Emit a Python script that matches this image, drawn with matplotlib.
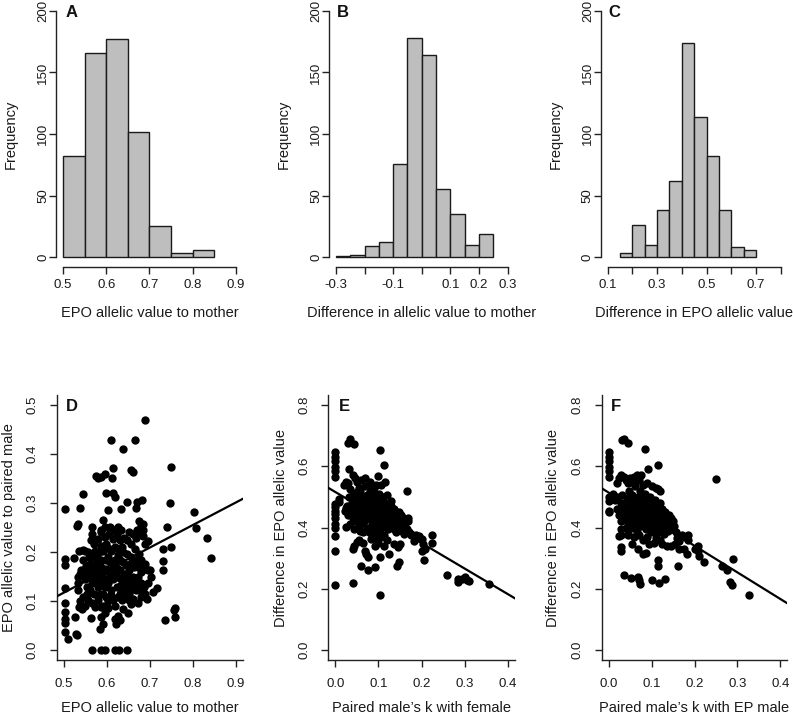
import numpy as np
import matplotlib
matplotlib.use("Agg")
import matplotlib.pyplot as plt

plt.rcParams['font.family'] = ['Liberation Sans', 'DejaVu Sans']

# --- histogram data (bin edges + counts) ---
a_edges = [0.50, 0.55, 0.60, 0.65, 0.70, 0.75, 0.80, 0.85]
a_counts = [82, 166, 177, 102, 25, 3, 6]

b_edges = [-0.30, -0.25, -0.20, -0.15, -0.10, -0.05, 0.00, 0.05, 0.10, 0.15, 0.20, 0.25]
b_counts = [1, 2, 9, 12, 76, 178, 164, 55, 35, 10, 19]

c_edges = [0.15, 0.20, 0.25, 0.30, 0.35, 0.40, 0.45, 0.50, 0.55, 0.60, 0.65, 0.70]
c_counts = [3, 26, 10, 38, 62, 174, 114, 82, 38, 8, 6]

# --- scatter D: EPO allelic value to mother vs to paired male ---
d_pts = [
    (0.690, 0.470), (0.611, 0.429), (0.666, 0.429), (0.638, 0.411), (0.750, 0.373),
    (0.615, 0.371), (0.657, 0.368), (0.662, 0.364), (0.576, 0.355), (0.580, 0.350),
    (0.588, 0.352), (0.597, 0.359), (0.613, 0.351), (0.544, 0.319), (0.598, 0.320),
    (0.614, 0.320), (0.620, 0.312), (0.648, 0.301), (0.670, 0.301), (0.683, 0.306),
    (0.748, 0.299), (0.503, 0.288), (0.537, 0.290), (0.603, 0.285), (0.634, 0.288),
    (0.668, 0.289), (0.802, 0.282), (0.739, 0.251), (0.808, 0.250), (0.833, 0.228),
    (0.843, 0.188), (0.531, 0.254), (0.534, 0.257), (0.567, 0.251), (0.592, 0.266),
    (0.676, 0.264), (0.685, 0.258), (0.503, 0.186), (0.503, 0.174), (0.525, 0.187),
    (0.536, 0.203), (0.546, 0.205), (0.750, 0.210), (0.730, 0.207), (0.730, 0.181),
    (0.730, 0.163), (0.716, 0.126), (0.503, 0.127), (0.503, 0.097), (0.503, 0.078),
    (0.503, 0.064), (0.503, 0.056), (0.503, 0.037), (0.510, 0.022), (0.528, 0.034),
    (0.531, 0.031), (0.526, 0.067), (0.563, 0.066), (0.735, 0.061), (0.758, 0.068),
    (0.757, 0.081), (0.758, 0.086), (0.585, 0.043), (0.592, 0.053),
    (0.567, 0.000), (0.586, 0.000), (0.596, 0.000), (0.619, 0.000), (0.628, 0.000),
    (0.648, 0.000),
    (0.619, 0.064), (0.626, 0.069), (0.632, 0.061), (0.621, 0.054), (0.588, 0.068),
    (0.596, 0.075), (0.603, 0.085), (0.592, 0.091), (0.619, 0.091), (0.638, 0.083),
    (0.649, 0.076), (0.657, 0.095), (0.661, 0.105), (0.653, 0.115), (0.661, 0.125),
    (0.668, 0.122), (0.651, 0.102), (0.565, 0.096), (0.573, 0.088), (0.557, 0.103),
    (0.546, 0.108), (0.538, 0.100), (0.536, 0.089), (0.542, 0.083), (0.550, 0.091),
    (0.534, 0.122), (0.533, 0.136), (0.533, 0.149), (0.539, 0.156), (0.550, 0.146),
    (0.559, 0.149), (0.565, 0.136), (0.569, 0.146), (0.576, 0.139), (0.580, 0.129),
    (0.584, 0.115), (0.592, 0.115), (0.599, 0.108), (0.604, 0.100), (0.609, 0.112),
    (0.614, 0.102), (0.596, 0.129), (0.603, 0.136), (0.611, 0.122), (0.623, 0.129),
    (0.630, 0.115), (0.638, 0.122), (0.641, 0.136), (0.634, 0.146), (0.624, 0.149),
    (0.614, 0.146), (0.588, 0.152), (0.580, 0.163), (0.573, 0.156), (0.566, 0.159),
    (0.556, 0.164), (0.552, 0.171), (0.562, 0.176), (0.569, 0.173), (0.576, 0.176),
    (0.586, 0.169), (0.592, 0.159), (0.599, 0.166), (0.607, 0.156), (0.617, 0.159),
    (0.623, 0.168), (0.632, 0.163), (0.641, 0.156), (0.649, 0.149), (0.657, 0.142),
    (0.664, 0.136), (0.672, 0.149), (0.680, 0.159), (0.687, 0.166), (0.695, 0.163),
    (0.701, 0.163), (0.686, 0.129), (0.688, 0.115), (0.680, 0.108), (0.672, 0.096),
    (0.668, 0.129), (0.661, 0.149), (0.653, 0.163), (0.645, 0.173), (0.638, 0.180),
    (0.630, 0.183), (0.619, 0.183), (0.607, 0.180), (0.599, 0.183), (0.588, 0.183),
    (0.580, 0.186), (0.571, 0.190), (0.563, 0.195), (0.556, 0.200), (0.550, 0.203),
    (0.573, 0.203), (0.583, 0.200), (0.592, 0.203), (0.602, 0.209), (0.611, 0.203),
    (0.620, 0.210), (0.628, 0.203), (0.638, 0.200), (0.648, 0.196), (0.657, 0.190),
    (0.663, 0.183), (0.672, 0.180), (0.680, 0.183), (0.689, 0.176), (0.676, 0.196),
    (0.665, 0.207), (0.657, 0.217), (0.648, 0.224), (0.640, 0.229), (0.630, 0.224),
    (0.623, 0.234), (0.615, 0.226), (0.605, 0.237), (0.596, 0.230), (0.588, 0.241),
    (0.580, 0.226), (0.571, 0.217), (0.563, 0.224), (0.599, 0.217), (0.588, 0.213),
    (0.668, 0.228), (0.676, 0.237), (0.684, 0.232), (0.688, 0.217), (0.695, 0.222),
    (0.680, 0.254), (0.684, 0.244), (0.671, 0.245), (0.661, 0.237), (0.653, 0.241),
    (0.634, 0.244), (0.626, 0.251), (0.617, 0.244), (0.607, 0.251), (0.597, 0.251),
    (0.586, 0.245), (0.567, 0.237), (0.559, 0.190), (0.544, 0.183), (0.540, 0.163),
    (0.546, 0.152), (0.554, 0.129), (0.561, 0.122), (0.571, 0.115), (0.580, 0.102),
    (0.586, 0.088), (0.635, 0.102), (0.643, 0.112), (0.626, 0.108), (0.634, 0.132),
    (0.648, 0.139), (0.653, 0.129), (0.600, 0.146), (0.593, 0.139), (0.585, 0.144),
    (0.554, 0.115), (0.672, 0.170), (0.663, 0.170), (0.703, 0.149), (0.707, 0.119),
    (0.695, 0.136), (0.680, 0.136), (0.676, 0.122), (0.694, 0.105), (0.615, 0.173),
    (0.611, 0.164), (0.582, 0.174), (0.603, 0.190), (0.626, 0.193), (0.635, 0.210),
    (0.655, 0.176),
]
d_fit = (-0.113, 0.46)  # intercept, slope

# --- scatter E: paired male's k with female vs difference in EPO allelic value ---
e_pts = [
    (0.030, 0.677), (0.034, 0.688), (0.043, 0.672), (0.103, 0.654), (0.114, 0.605),
    (0.000, 0.645), (0.000, 0.629), (0.000, 0.618), (0.000, 0.596), (0.000, 0.585),
    (0.000, 0.564), (0.000, 0.477), (0.000, 0.466), (0.000, 0.455), (0.000, 0.444),
    (0.000, 0.430), (0.000, 0.410), (0.000, 0.400), (0.000, 0.372), (0.000, 0.325),
    (0.000, 0.211), (0.040, 0.220), (0.103, 0.179), (0.167, 0.518), (0.009, 0.493),
    (0.009, 0.482), (0.025, 0.401), (0.168, 0.430), (0.168, 0.422),
    (0.258, 0.244), (0.284, 0.222), (0.284, 0.233), (0.293, 0.233), (0.300, 0.238),
    (0.304, 0.228), (0.310, 0.226), (0.357, 0.217),
    (0.176, 0.374), (0.188, 0.374), (0.200, 0.363), (0.204, 0.347), (0.208, 0.331),
    (0.223, 0.374), (0.223, 0.349), (0.200, 0.325), (0.206, 0.293), (0.190, 0.365),
    (0.195, 0.372), (0.182, 0.355), (0.160, 0.378), (0.155, 0.390),
    (0.040, 0.330), (0.044, 0.340), (0.050, 0.352), (0.056, 0.358), (0.060, 0.276),
    (0.068, 0.325), (0.071, 0.314), (0.075, 0.304), (0.075, 0.262), (0.091, 0.271),
    (0.091, 0.341), (0.103, 0.304), (0.124, 0.314), (0.144, 0.276), (0.148, 0.287),
    (0.145, 0.336), (0.114, 0.341), (0.083, 0.363), (0.065, 0.350), (0.100, 0.350),
    (0.120, 0.360), (0.135, 0.345), (0.150, 0.345),
    (0.025, 0.550), (0.030, 0.545), (0.033, 0.590), (0.040, 0.570), (0.045, 0.560),
    (0.050, 0.550), (0.060, 0.555), (0.068, 0.560), (0.080, 0.550), (0.095, 0.540),
    (0.100, 0.567), (0.105, 0.540), (0.115, 0.548), (0.128, 0.485), (0.120, 0.505),
    (0.090, 0.530), (0.075, 0.535), (0.055, 0.530), (0.035, 0.525), (0.020, 0.540),
    (0.022, 0.455), (0.028, 0.470), (0.030, 0.440), (0.032, 0.500), (0.035, 0.455),
    (0.038, 0.480), (0.040, 0.430), (0.040, 0.510), (0.042, 0.465), (0.045, 0.445),
    (0.045, 0.495), (0.048, 0.420), (0.048, 0.475), (0.050, 0.455), (0.050, 0.515),
    (0.052, 0.435), (0.053, 0.490), (0.055, 0.465), (0.055, 0.405), (0.057, 0.445),
    (0.058, 0.520), (0.060, 0.480), (0.060, 0.430), (0.062, 0.460), (0.063, 0.500),
    (0.065, 0.440), (0.065, 0.415), (0.066, 0.470), (0.068, 0.450), (0.068, 0.535),
    (0.070, 0.490), (0.070, 0.425), (0.072, 0.460), (0.073, 0.400), (0.074, 0.505),
    (0.075, 0.445), (0.076, 0.475), (0.078, 0.430), (0.078, 0.385), (0.080, 0.460),
    (0.080, 0.515), (0.082, 0.490), (0.083, 0.440), (0.084, 0.410), (0.085, 0.470),
    (0.086, 0.525), (0.088, 0.450), (0.089, 0.395), (0.090, 0.480), (0.091, 0.430),
    (0.092, 0.505), (0.094, 0.460), (0.095, 0.415), (0.096, 0.445), (0.098, 0.490),
    (0.098, 0.380), (0.100, 0.470), (0.101, 0.430), (0.102, 0.510), (0.104, 0.455),
    (0.105, 0.400), (0.106, 0.485), (0.108, 0.440), (0.109, 0.420), (0.110, 0.465),
    (0.111, 0.500), (0.112, 0.375), (0.113, 0.450), (0.115, 0.430), (0.116, 0.480),
    (0.118, 0.410), (0.119, 0.460), (0.120, 0.440), (0.122, 0.470), (0.123, 0.395),
    (0.125, 0.455), (0.126, 0.425), (0.128, 0.445), (0.130, 0.470), (0.131, 0.410),
    (0.133, 0.440), (0.135, 0.460), (0.137, 0.395), (0.138, 0.425), (0.140, 0.385),
    (0.142, 0.445), (0.145, 0.405), (0.147, 0.450), (0.150, 0.420), (0.152, 0.440),
    (0.155, 0.400), (0.158, 0.430), (0.162, 0.415), (0.165, 0.395), (0.170, 0.385),
    (0.175, 0.378), (0.025, 0.465), (0.035, 0.410), (0.058, 0.390), (0.043, 0.395),
    (0.105, 0.370), (0.085, 0.375), (0.065, 0.385), (0.093, 0.365),
]
e_fit = (0.516, -0.834)

# --- scatter F: paired male's k with EP male vs difference in EPO allelic value ---
f_pts = [
    (0.032, 0.685), (0.036, 0.688), (0.044, 0.674), (0.085, 0.656), (0.114, 0.605),
    (0.091, 0.591), (0.251, 0.558),
    (0.000, 0.645), (0.000, 0.629), (0.000, 0.618), (0.000, 0.596), (0.000, 0.585),
    (0.000, 0.564), (0.000, 0.499), (0.000, 0.488), (0.000, 0.455), (0.000, 0.450),
    (0.035, 0.244), (0.052, 0.236), (0.069, 0.238), (0.071, 0.228), (0.074, 0.217),
    (0.102, 0.228), (0.118, 0.220), (0.131, 0.233), (0.116, 0.293), (0.114, 0.276),
    (0.162, 0.273), (0.069, 0.331), (0.087, 0.317), (0.030, 0.336), (0.030, 0.325),
    (0.029, 0.377), (0.044, 0.377), (0.207, 0.341), (0.207, 0.325), (0.210, 0.306),
    (0.222, 0.287), (0.263, 0.276), (0.276, 0.262), (0.289, 0.298), (0.282, 0.222),
    (0.288, 0.211), (0.327, 0.179),
    (0.160, 0.365), (0.165, 0.355), (0.170, 0.375), (0.178, 0.370), (0.185, 0.375),
    (0.185, 0.360), (0.183, 0.315), (0.165, 0.330), (0.175, 0.330), (0.155, 0.345),
    (0.145, 0.340), (0.135, 0.340), (0.200, 0.330),
    (0.025, 0.372), (0.055, 0.345), (0.060, 0.370), (0.065, 0.400), (0.040, 0.400),
    (0.080, 0.360), (0.095, 0.345), (0.105, 0.350), (0.120, 0.360), (0.125, 0.345),
    (0.080, 0.315),
    (0.020, 0.545), (0.025, 0.560), (0.030, 0.570), (0.035, 0.565), (0.040, 0.555),
    (0.045, 0.545), (0.050, 0.560), (0.055, 0.550), (0.060, 0.565), (0.065, 0.570),
    (0.070, 0.555), (0.075, 0.570), (0.080, 0.540), (0.090, 0.545), (0.100, 0.535),
    (0.110, 0.530), (0.115, 0.525), (0.120, 0.520), (0.015, 0.490), (0.020, 0.500),
    (0.010, 0.510),
    (0.020, 0.460), (0.025, 0.440), (0.028, 0.480), (0.030, 0.420), (0.032, 0.505),
    (0.035, 0.455), (0.037, 0.470), (0.040, 0.435), (0.042, 0.495), (0.044, 0.415),
    (0.046, 0.460), (0.048, 0.520), (0.050, 0.445), (0.050, 0.480), (0.052, 0.400),
    (0.054, 0.465), (0.055, 0.505), (0.057, 0.430), (0.058, 0.490), (0.060, 0.450),
    (0.061, 0.415), (0.062, 0.535), (0.064, 0.475), (0.065, 0.440), (0.066, 0.385),
    (0.068, 0.500), (0.069, 0.460), (0.070, 0.425), (0.072, 0.485), (0.073, 0.445),
    (0.074, 0.520), (0.075, 0.405), (0.077, 0.470), (0.078, 0.435), (0.079, 0.495),
    (0.080, 0.455), (0.082, 0.415), (0.083, 0.480), (0.084, 0.440), (0.085, 0.510),
    (0.087, 0.395), (0.088, 0.465), (0.089, 0.425), (0.090, 0.490), (0.092, 0.450),
    (0.093, 0.410), (0.094, 0.475), (0.095, 0.435), (0.097, 0.500), (0.098, 0.385),
    (0.099, 0.460), (0.100, 0.420), (0.101, 0.480), (0.103, 0.440), (0.104, 0.400),
    (0.105, 0.465), (0.107, 0.425), (0.108, 0.490), (0.110, 0.445), (0.111, 0.410),
    (0.112, 0.470), (0.114, 0.385), (0.115, 0.430), (0.117, 0.455), (0.118, 0.400),
    (0.119, 0.480), (0.121, 0.420), (0.122, 0.445), (0.124, 0.395), (0.125, 0.460),
    (0.127, 0.415), (0.128, 0.435), (0.130, 0.380), (0.132, 0.450), (0.134, 0.405),
    (0.136, 0.425), (0.138, 0.390), (0.140, 0.440), (0.143, 0.410), (0.145, 0.430),
    (0.148, 0.395), (0.150, 0.420), (0.153, 0.405), (0.158, 0.385), (0.163, 0.370),
    (0.030, 0.395), (0.045, 0.380), (0.070, 0.375), (0.090, 0.370), (0.110, 0.365),
]
f_fit = (0.514, -0.868)


def style_axes(ax, xlim, ylim, xbounds, ybounds, xticks, xlabels, yticks, ylabels,
               xpad, ypad):
    ax.set_xlim(*xlim)
    ax.set_ylim(*ylim)
    for s in ("top", "right"):
        ax.spines[s].set_visible(False)
    ax.spines["left"].set_bounds(*ybounds)
    ax.spines["bottom"].set_bounds(*xbounds)
    for s in ("left", "bottom"):
        ax.spines[s].set_color("#222222")
        ax.spines[s].set_linewidth(1.0)
    ax.set_xticks(xticks)
    ax.set_xticklabels(xlabels)
    ax.set_yticks(yticks)
    ax.set_yticklabels(ylabels, rotation=90, va="center")
    ax.tick_params(axis="x", length=5, width=1.0, color="#222222", pad=xpad,
                   labelsize=9.5, labelcolor="#1a1a1a")
    ax.tick_params(axis="y", length=5, width=1.0, color="#222222", pad=ypad,
                   labelsize=9.5, labelcolor="#1a1a1a")


def add_labels(ax, letter, lx, ly, xlabel, ylabel, xlab_y, ylab_x):
    ax.text(lx, ly, letter, transform=ax.transAxes, fontsize=12, fontweight="bold",
            ha="center", va="center", color="#111111")
    ax.set_xlabel(xlabel, fontsize=10.5, color="#1a1a1a")
    ax.set_ylabel(ylabel, fontsize=10.5, color="#1a1a1a")
    ax.xaxis.set_label_coords(0.5, xlab_y)
    ax.yaxis.set_label_coords(ylab_x, 0.5)


fig = plt.figure(figsize=(7.93, 7.16), dpi=100)

hist_specs = [
    ("A", [0.0706, 0.6271, 0.2358, 0.3715], a_edges, a_counts, (0.484, 0.916), (0.5, 0.9),
     [0.5, 0.6, 0.7, 0.8, 0.9], ["0.5", "0.6", "0.7", "0.8", "0.9"],
     "EPO allelic value to mother", 0.086),
    ("B", [0.4150, 0.6271, 0.2338, 0.3715], b_edges, b_counts, (-0.324, 0.324), (-0.3, 0.3),
     [-0.3, -0.2, -0.1, 0.0, 0.1, 0.2, 0.3], ["-0.3", "", "-0.1", "", "0.1", "0.2", "0.3"],
     "Difference in allelic value to mother", 0.074),
    ("C", [0.7576, 0.6271, 0.2356, 0.3715], c_edges, c_counts, (0.072, 0.828), (0.1, 0.8),
     [0.1, 0.2, 0.3, 0.4, 0.5, 0.6, 0.7, 0.8], ["0.1", "", "0.3", "", "0.5", "", "0.7", ""],
     "Difference in EPO allelic value", 0.07),
]

for letter, pos, edges, counts, xlim, xb, xt, xtl, xlab, lx in hist_specs:
    ax = fig.add_axes(pos)
    edges = np.array(edges)
    ax.bar(edges[:-1], counts, width=np.diff(edges), align="edge",
           color="#bebebe", edgecolor="#1a1a1a", linewidth=1.0)
    style_axes(ax, xlim, (-8, 208), xb, (0, 200), xt, xtl,
               [0, 50, 100, 150, 200], ["0", "50", "100", "150", "200"], 3.5, 0)
    add_labels(ax, letter, lx, 0.955, xlab, "Frequency", -0.147, -0.205)

scatter_specs = [
    ("D", [0.0715, 0.0782, 0.2346, 0.3701], d_pts, d_fit, (0.484, 0.916), (-0.02, 0.52),
     (0.5, 0.9), [0.5, 0.6, 0.7, 0.8, 0.9], ["0.5", "0.6", "0.7", "0.8", "0.9"],
     (0.0, 0.5), [0.0, 0.1, 0.2, 0.3, 0.4, 0.5], ["0.0", "0.1", "0.2", "0.3", "0.4", "0.5"],
     "EPO allelic value to mother", "EPO allelic value to paired male", 0.08, -0.22),
    ("E", [0.4140, 0.0782, 0.2354, 0.3701], e_pts, e_fit, (-0.016, 0.416), (-0.032, 0.832),
     (0.0, 0.4), [0.0, 0.1, 0.2, 0.3, 0.4], ["0.0", "0.1", "0.2", "0.3", "0.4"],
     (0.0, 0.8), [0.0, 0.2, 0.4, 0.6, 0.8], ["0.0", "0.2", "0.4", "0.6", "0.8"],
     "Paired male\u2019s k with female", "Difference in EPO allelic value", 0.084, -0.216),
    ("F", [0.7588, 0.0782, 0.2340, 0.3701], f_pts, f_fit, (-0.016, 0.416), (-0.032, 0.832),
     (0.0, 0.4), [0.0, 0.1, 0.2, 0.3, 0.4], ["0.0", "0.1", "0.2", "0.3", "0.4"],
     (0.0, 0.8), [0.0, 0.2, 0.4, 0.6, 0.8], ["0.0", "0.2", "0.4", "0.6", "0.8"],
     "Paired male\u2019s k with EP male", "Difference in EPO allelic value", 0.077, -0.226),
]

for (letter, pos, pts, fit, xlim, ylim, xb, xt, xtl, yb, yt, ytl,
     xlab, ylab, lx, ylx) in scatter_specs:
    ax = fig.add_axes(pos)
    pts = np.array(pts)
    ax.scatter(pts[:, 0], pts[:, 1], s=36, color="black", linewidths=0, zorder=3)
    xs = np.array(xlim)
    ax.plot(xs, fit[0] + fit[1] * xs, color="black", linewidth=1.6, zorder=4,
            clip_on=True)
    style_axes(ax, xlim, ylim, xlim, ylim, xt, xtl, yt, ytl, 8, 8)
    add_labels(ax, letter, lx, 0.958, xlab, ylab, -0.155, ylx)

fig.savefig("out.png", dpi=100)
